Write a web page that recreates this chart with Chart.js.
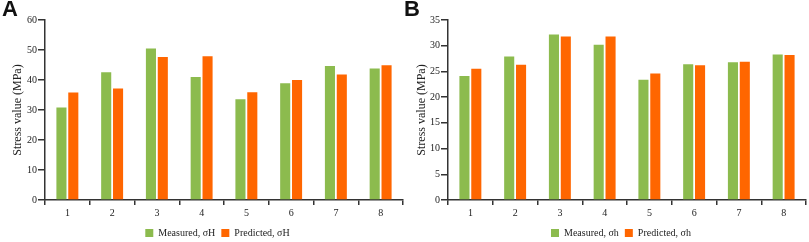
<!DOCTYPE html>
<html>
<head>
<meta charset="utf-8">
<script src="https://cdn.jsdelivr.net/npm/chart.js@4.4.0/dist/chart.umd.min.js"></script>
<style>
  html, body { margin: 0; padding: 0; background: #fff; }
  #wrap { position: relative; width: 809px; height: 242px; overflow: hidden; }
  .panel { position: absolute; top: 0; width: 404px; height: 242px; }
  .tag { position: absolute; top: -4px; font: bold 22px "Liberation Sans", Arial, sans-serif; color: #111; }
</style>
</head>
<body>
<div id="wrap">
  <div class="panel" style="left:0"><canvas id="grafico-a"></canvas></div>
  <div class="panel" style="left:404px"><canvas id="grafico-b"></canvas></div>
  <div class="tag" style="left:2px">A</div>
  <div class="tag" style="left:404px">B</div>
</div>
<script>
// Datos
const categorias = ['1', '2', '3', '4', '5', '6', '7', '8'];
const medidoMax = [30.8, 42.6, 50.5, 41.0, 33.6, 38.9, 44.7, 43.8];
const predichoMax = [35.8, 37.2, 47.7, 47.9, 35.9, 40.0, 41.8, 44.9];
const medidoMin = [24.1, 27.9, 32.2, 30.2, 23.4, 26.4, 26.8, 28.3];
const predichoMin = [25.5, 26.3, 31.8, 31.8, 24.6, 26.2, 26.9, 28.2];

const verde = '#8cbb4e';
const naranja = '#ff6600';
const ejeColor = '#333333';
const fuente = "'Liberation Serif', 'Times New Roman', serif";

// Desplaza la leyenda para centrarla bajo el área de barras
const moverLeyenda = {
    id: 'moverLeyenda',
    afterLayout(chart, args, opts) {
        const l = chart.legend;
        if (!l) return;
        l.left += opts.dx; l.right += opts.dx;
        l.top += opts.dy; l.bottom += opts.dy;
    }
};

function crearGrafico(id, medido, predicho, subindice, maxY, paso, anchoEje, padDerecha) {
    const ctx = document.getElementById(id).getContext('2d');
    return new Chart(ctx, {
        type: 'bar',
        data: {
            labels: categorias,
            datasets: [
                {
                    label: 'Measured, σ' + subindice,
                    data: medido,
                    backgroundColor: verde,
                    barPercentage: 0.85,
                    categoryPercentage: 0.53
                },
                {
                    label: 'Predicted, σ' + subindice,
                    data: predicho,
                    backgroundColor: naranja,
                    barPercentage: 0.85,
                    categoryPercentage: 0.53
                }
            ]
        },
        plugins: [moverLeyenda],
        options: {
            responsive: true,
            maintainAspectRatio: false,
            animation: false,
            layout: { padding: { top: 20, right: padDerecha, bottom: 0, left: 0 } },
            plugins: {
                tooltip: { enabled: false },
                moverLeyenda: { dx: 16, dy: 6 },
                legend: {
                    position: 'bottom',
                    labels: {
                        boxWidth: 8,
                        boxHeight: 8,
                        padding: 6,
                        color: '#222',
                        font: { family: fuente, size: 10 }
                    }
                }
            },
            scales: {
                x: {
                    offset: true,
                    grid: {
                        offset: true,
                        drawOnChartArea: false,
                        drawTicks: true,
                        tickLength: 5,
                        color: ejeColor,
                        lineWidth: 1.5
                    },
                    border: { color: ejeColor, width: 1.5 },
                    ticks: { color: '#222', padding: 2, font: { family: fuente, size: 10 } },
                    afterFit: function(scale) { scale.height = 16; }
                },
                y: {
                    min: 0,
                    max: maxY,
                    ticks: {
                        stepSize: paso,
                        color: '#222',
                        padding: 1,
                        font: { family: fuente, size: 10 }
                    },
                    grid: {
                        drawOnChartArea: false,
                        drawTicks: true,
                        tickLength: 7,
                        color: ejeColor,
                        lineWidth: 1.5
                    },
                    border: { color: ejeColor, width: 1.5 },
                    title: {
                        display: true,
                        text: 'Stress value (MPa)',
                        color: '#222',
                        padding: { top: 11, bottom: 0 },
                        font: { family: fuente, size: 12 }
                    },
                    afterFit: function(scale) { scale.width = anchoEje; }
                }
            }
        }
    });
}

crearGrafico('grafico-a', medidoMax, predichoMax, 'H', 60, 10, 45, 1);
crearGrafico('grafico-b', medidoMin, predichoMin, 'h', 35, 5, 44, 2);
</script>
</body>
</html>
